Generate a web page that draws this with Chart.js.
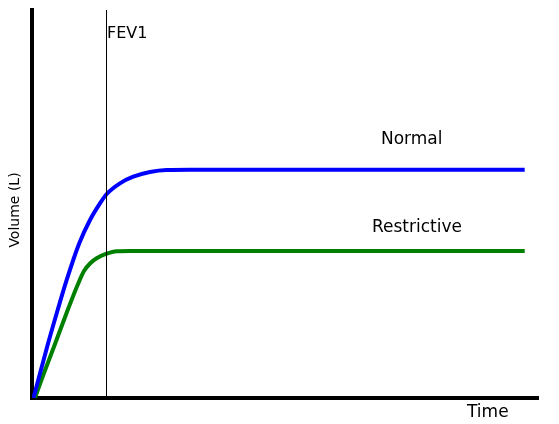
<!DOCTYPE html>
<html>
<head>
<meta charset="utf-8">
<script src="https://cdn.jsdelivr.net/npm/chart.js@4/dist/chart.umd.min.js"></script>
<style>
  html, body { margin: 0; padding: 0; background: #fff; }
  #wrap { width: 559px; height: 424px; }
</style>
</head>
<body>
<div id="wrap"><canvas id="c" width="559" height="424"></canvas></div>
<script>
// ---- data (time in s, volume in L) ----
const timeNormal = [0.02, 0.205, 0.334, 0.469, 0.639, 0.784, 0.919, 1.01, 1.189, 1.369, 1.595, 1.82, 2.135, 6.66];
const volNormal  = [0, 0.793, 1.31, 1.825, 2.392, 2.753, 3.01, 3.155, 3.32, 3.422, 3.495, 3.526, 3.53, 3.53];
const timeRestrictive = [0.04, 0.127, 0.297, 0.466, 0.622, 0.703, 0.784, 0.874, 1.0, 1.145, 1.324, 6.66];
const volRestrictive  = [0, 0.278, 0.793, 1.31, 1.763, 1.964, 2.08, 2.16, 2.227, 2.269, 2.273, 2.273];
const fev1Time = 1;
const seriesNames = ['Normal', 'Restrictive'];
const axisTitles = { x: 'Time', y: 'Volume (L)' };
const markerLabel = 'FEV1';

const toPts = (xs, ys) => xs.map((x, i) => ({ x: x, y: ys[i] }));

const labelPlugin = {
  id: 'labels',
  afterDatasetsDraw(chart) {
    const ctx = chart.ctx;
    const xs = chart.scales.x, ca = chart.chartArea;
    ctx.save();
    // FEV1 marker line
    const px = Math.round(xs.getPixelForValue(fev1Time)) + 0.5;
    ctx.strokeStyle = '#000';
    ctx.lineWidth = 1;
    ctx.beginPath();
    ctx.moveTo(px, ca.top);
    ctx.lineTo(px, ca.bottom);
    ctx.stroke();
    ctx.fillStyle = '#000';
    ctx.textBaseline = 'alphabetic';
    ctx.textAlign = 'left';
    ctx.font = '16px "DejaVu Sans"';
    ctx.fillText(markerLabel, px + 0.5, 38);
    ctx.font = '17px "DejaVu Sans"';
    ctx.fillText(seriesNames[0], 381, 144);
    ctx.fillText(seriesNames[1], 372, 232);
    ctx.fillText(axisTitles.x, 467, 417);
    ctx.font = '14px "DejaVu Sans"';
    ctx.translate(19, 210);
    ctx.rotate(-Math.PI / 2);
    ctx.textAlign = 'center';
    ctx.fillText(axisTitles.y, 0, 0);
    ctx.restore();
  }
};

new Chart(document.getElementById('c'), {
  type: 'scatter',
  data: {
    datasets: [
      {
        label: seriesNames[0],
        data: toPts(timeNormal, volNormal),
        showLine: true,
        borderColor: '#0000ff',
        borderWidth: 4,
        pointRadius: 0,
        cubicInterpolationMode: 'monotone',
        fill: false
      },
      {
        label: seriesNames[1],
        data: toPts(timeRestrictive, volRestrictive),
        showLine: true,
        borderColor: '#008000',
        borderWidth: 4,
        pointRadius: 0,
        cubicInterpolationMode: 'monotone',
        fill: false
      }
    ]
  },
  options: {
    responsive: false,
    animation: false,
    devicePixelRatio: 1,
    layout: { padding: { left: 32, top: 10, right: 21, bottom: 26 } },
    plugins: { legend: { display: false }, tooltip: { enabled: false } },
    scales: {
      x: {
        type: 'linear', min: 0, max: 6.84,
        ticks: { display: false },
        grid: { display: false, drawTicks: false },
        border: { display: true, color: '#000', width: 4 },
        afterFit(s) { s.height = 0; }
      },
      y: {
        type: 'linear', min: 0, max: 6,
        ticks: { display: false },
        grid: { display: false, drawTicks: false },
        border: { display: true, color: '#000', width: 4 },
        afterFit(s) { s.width = 0; }
      }
    }
  },
  plugins: [labelPlugin]
});
</script>
</body>
</html>
